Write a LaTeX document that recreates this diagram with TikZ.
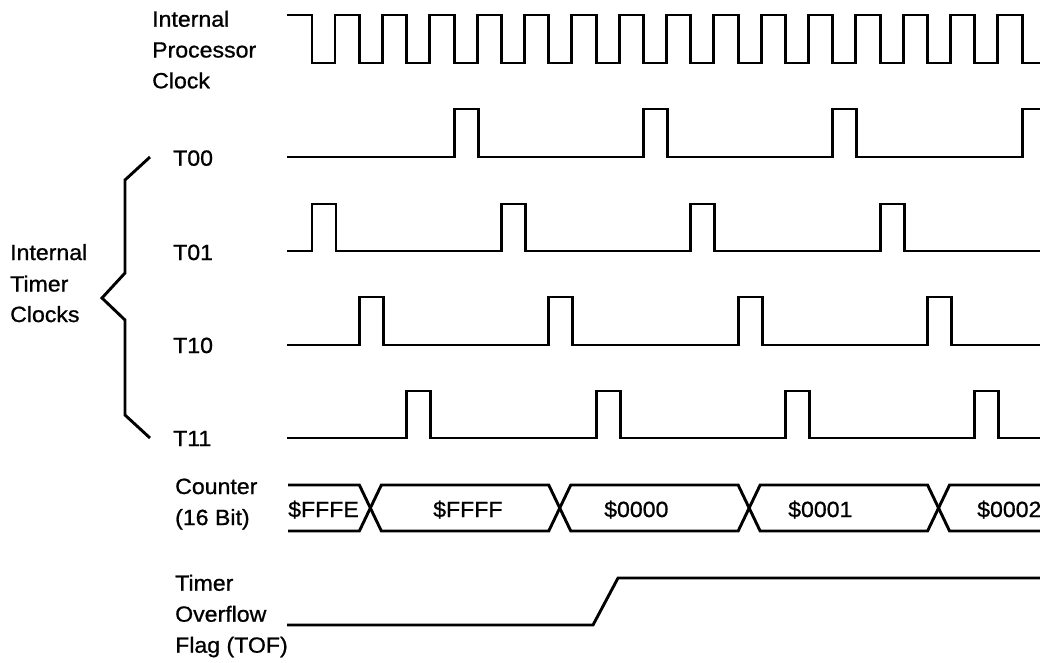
\documentclass[tikz,border=0pt]{standalone}
\usepackage{fontspec}
\setmainfont{Liberation Sans}[FakeStretch=1.05,FakeBold=0.9]
\begin{document}
\begin{tikzpicture}[x=1pt,y=-1pt,
  sig/.style={line width=2.9pt, line join=miter, line cap=butt},
  lbl/.style={anchor=base west, inner sep=0pt, font=\fontsize{22}{26}\selectfont}]
\useasboundingbox (0,0) rectangle (1040,662);
\clip (0,0) rectangle (1040,662);
\def\P{47.35}
% labels
\node[lbl] (ipc1) at (152,26.7) {Internal};
\node[lbl] (ipc2) at (152,57.5) {Processor};
\node[lbl] (ipc3) at (152,88.3) {Clock};
\node[lbl] (t00) at (173,165.7) {T00};
\node[lbl] (t01) at (173,260) {T01};
\node[lbl] (t10) at (173,353) {T10};
\node[lbl] (t11) at (173,446) {T11};
\node[lbl] (itc1) at (10,260) {Internal};
\node[lbl] (itc2) at (10,291.5) {Timer};
\node[lbl] (itc3) at (10,322) {Clocks};
\node[lbl] (cnt1) at (175,494) {Counter};
\node[lbl] (cnt2) at (175,525) {(16 Bit)};
\node[lbl] (tof1) at (175,590.7) {Timer};
\node[lbl] (tof2) at (175,621.7) {Overflow};
\node[lbl] (tof3) at (175,652.7) {Flag (TOF)};
% brace
\draw[sig] (150,157) -- (125,180) -- (125,273) -- (102,298) -- (125,320) -- (125,415) -- (150,438);
% processor clock
\draw[sig] (287,15) foreach \k in {0,...,15} {
  -- ({312+\P*\k},15) -- ({312+\P*\k},63) -- ({335+\P*\k},63) -- ({335+\P*\k},15) };
% timer clocks
\draw[sig] (287,157) foreach \j in {3,7,11,15} {
  -- ({312+\P*\j},157) -- ({312+\P*\j},109) -- ({336+\P*\j},109) -- ({336+\P*\j},157) } -- (1060,157);
\draw[sig] (287,251) foreach \j in {0,4,8,12} {
  -- ({312+\P*\j},251) -- ({312+\P*\j},204) -- ({336+\P*\j},204) -- ({336+\P*\j},251) } -- (1060,251);
\draw[sig] (287,345) foreach \j in {1,5,9,13} {
  -- ({312+\P*\j},345) -- ({312+\P*\j},297) -- ({336+\P*\j},297) -- ({336+\P*\j},345) } -- (1060,345);
\draw[sig] (287,438) foreach \j in {2,6,10,14} {
  -- ({312+\P*\j},438) -- ({312+\P*\j},391) -- ({336+\P*\j},391) -- ({336+\P*\j},438) } -- (1060,438);
% counter bus
\draw[sig] (288,485) -- ({312+\P*1},485) -- ({334+\P*1},531) -- ({312+\P*5},531) -- ({334+\P*5},485)
  -- ({312+\P*9},485) -- ({334+\P*9},531) -- ({312+\P*13},531) -- ({334+\P*13},485) -- (1060,485);
\draw[sig] (288,531) -- ({312+\P*1},531) -- ({334+\P*1},485) -- ({312+\P*5},485) -- ({334+\P*5},531)
  -- ({312+\P*9},531) -- ({334+\P*9},485) -- ({312+\P*13},485) -- ({334+\P*13},531) -- (1060,531);
\node[lbl] (v0) at (288,517) {\$FFFE};
\node[lbl] (v1) at (433,517) {\$FFFF};
\node[lbl] (v2) at (604,517) {\$0000};
\node[lbl] (v3) at (788,517) {\$0001};
\node[lbl] (v4) at (977,517) {\$0002};
% TOF
\draw[sig] (287,625) -- (593,625) -- (618,578) -- (1060,578);
\end{tikzpicture}
\end{document}
